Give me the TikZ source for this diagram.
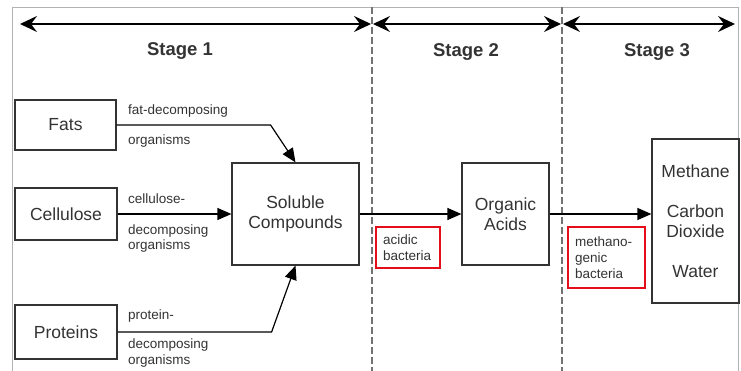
\documentclass[tikz,border=0pt]{standalone}
\usepackage{fontspec}
\setmainfont{Liberation Sans}
\usetikzlibrary{arrows.meta}
\definecolor{ink}{rgb}{0.2,0.2,0.2}
\definecolor{mark}{rgb}{0.9,0.05,0.1}

\begin{document}
\begin{tikzpicture}[x=1pt, y=-1pt,
		  box/.style={draw=ink, line width=1.2pt, text=ink, align=center,
		      font=\fontsize{17.5}{20}\selectfont},
		  tag/.style={draw=mark, line width=2pt, text=ink, anchor=north west,
		      align=left, inner xsep=7pt, font=\fontsize{13.5}{16}\selectfont},
		  lbl/.style={anchor=base west, inner sep=0pt, text=ink,
		      font=\fontsize{13.5}{15}\selectfont},
		  stage/.style={font=\bfseries\fontsize{18.5}{20}\selectfont, text=ink},
		  flow/.style={line width=1.2pt, -{Triangle[length=14pt,width=12pt]}},
		  span/.style={line width=1.3pt, {Stealth[length=17pt,width=16pt,inset=6pt]}-{Stealth[length=17pt,width=16pt,inset=6pt]}}]
		  \useasboundingbox (0,0) rectangle (741,371);
		  % frame and stage dividers
		  \draw[gray!60] (12,371) -- (12,7) -- (738,7) -- (738,371);
		  \foreach \x in {372,562}{
		      \draw[gray!90!black, line width=1.2pt, dash pattern=on 7pt off 3pt] (\x,7) -- (\x,371);
		  }
		  \draw[span] (20,24) -- (371,24);
		  \draw[span] (373,24) -- (561,24);
		  \draw[span] (563,24) -- (735,24);
		  \node[stage] (s1) at (180,51) {Stage 1};
		  \node[stage] (s2) at (466,52) {Stage 2};
		  \node[stage] (s3) at (657,52) {Stage 3};
		  % substrates
		  \node[box, minimum width=101pt, minimum height=50pt] (fats) at (65.5,125) {Fats};
		  \node[box, minimum width=102pt, minimum height=52pt] (cell) at (66,214) {Cellulose};
		  \node[box, minimum width=102pt, minimum height=54pt] (prot) at (66,332) {Proteins};
		  % products
		  \node[box, minimum width=127pt, minimum height=102pt] (sol) at (295.5,214) {Soluble\\Compounds};
		  \node[box, minimum width=87pt, minimum height=102pt] (acids) at (505.5,214) {Organic\\Acids};
		  \node[box, minimum width=87pt, minimum height=164pt] (gas) at (695.5,221)
		      {Methane\\[20pt]Carbon\\Dioxide\\[20pt]Water};
		  % bacteria
		  \node[tag, text width=50pt, minimum height=41pt] (acidic) at (375,226) {acidic\\bacteria};
		  \node[tag, text width=63pt, minimum height=61pt] (methano) at (567,226) {methano-\\genic\\bacteria};
		  % flows
		  \draw[flow] (fats.east) -- ++(154,0) -- (sol.north);
		  \draw[flow] (cell) -- (sol);
		  \draw[flow] (prot.east) -- ++(154,0) -- (sol.south);
		  \draw[flow] (sol) -- (acids);
		  \draw[flow] (acids.east) -- (acids.east -| gas.west);
		  % organism labels
		  \node[lbl] (f1) at (128,115) {fat-decomposing};
		  \node[lbl] (f2) at (128,145) {organisms};
		  \node[lbl] (c1) at (128,204) {cellulose-};
		  \node[lbl] (c2) at (128,235) {decomposing};
		  \node[lbl] (c3) at (128,250) {organisms};
		  \node[lbl] (p1) at (128,319) {protein-};
		  \node[lbl] (p2) at (128,348) {decomposing};
		  \node[lbl] (p3) at (128,364) {organisms};
\end{tikzpicture}
\end{document}
